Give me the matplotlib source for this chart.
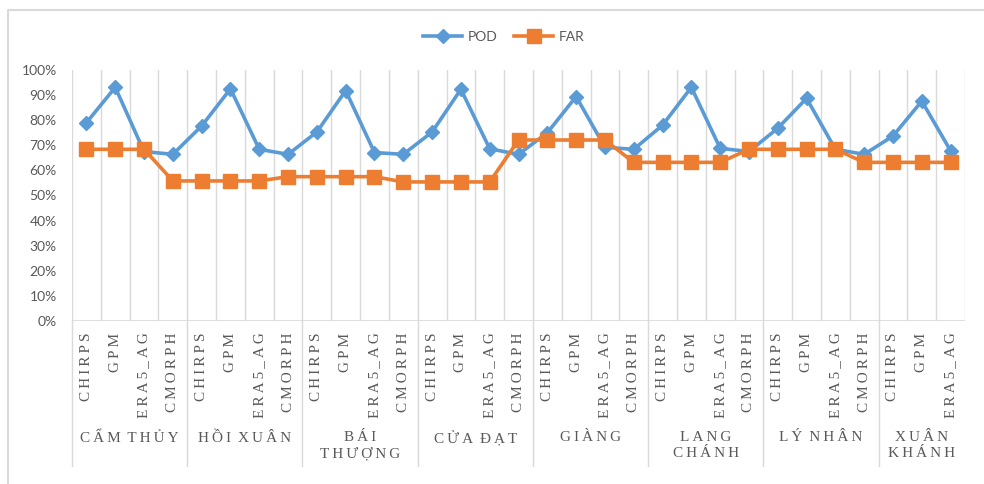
import numpy as np
import matplotlib
matplotlib.use('Agg')
import matplotlib.pyplot as plt
from matplotlib.lines import Line2D
from matplotlib.transforms import blended_transform_factory

# 站点与产品
stations = ['CẨM THỦY', 'HỒI XUÂN', 'BÁI\nTHƯỢNG', 'CỬA ĐẠT', 'GIÀNG',
            'LANG\nCHÁNH', 'LÝ NHÂN', 'XUÂN\nKHÁNH']
products = ['CHIRPS', 'GPM', 'ERA5_AG', 'CMORPH']
n_products = [4, 4, 4, 4, 4, 4, 4, 3]

# POD / FAR (%)
pod = [79.0, 93.1, 67.5, 66.4,
       77.7, 92.5, 68.4, 66.4,
       75.3, 91.8, 67.1, 66.4,
       75.3, 92.3, 68.6, 66.4,
       75.0, 89.4, 69.2, 68.4,
       78.0, 93.1, 68.8, 67.5,
       76.8, 88.7, 68.4, 66.4,
       73.7, 87.6, 67.8]
far = [68.4, 68.4, 68.4, 55.8,
       55.8, 55.8, 55.8, 57.5,
       57.5, 57.5, 57.5, 55.4,
       55.4, 55.4, 55.4, 72.1,
       72.1, 72.1, 72.1, 63.2,
       63.2, 63.2, 63.2, 68.4,
       68.4, 68.4, 68.4, 63.2,
       63.2, 63.2, 63.2]

labels = [p for n in n_products for p in products[:n]]
x = np.arange(len(labels))
pod = np.array(pod) / 100
far = np.array(far) / 100

grey = '#595959'
grid_c = '#D9D9D9'
serif = ['Liberation Serif', 'DejaVu Serif']


def spaced(s):
    # 字间距加宽
    return '\n'.join('\u2009 '.join('\u2009'.join(w) for w in line.split(' '))
                     for line in s.split('\n'))


fig = plt.figure(figsize=(9.84, 4.84), dpi=100)
ax = fig.add_axes([0.0732, 0.3368, 0.9075, 0.5186])

ax.plot(x, pod, color='#5B9BD5', lw=2.6, marker='D', ms=7, label='POD', zorder=3)
ax.plot(x, far, color='#ED7D31', lw=2.6, marker='s', ms=9.5, label='FAR', zorder=3)

ax.set_xlim(-0.5, len(x) - 0.5)
ax.set_ylim(0, 1)
ax.set_yticks(np.arange(0, 1.01, 0.1))
ax.set_yticklabels([f'{int(round(v * 100))}%' for v in np.arange(0, 1.01, 0.1)],
                   fontsize=10, color=grey, family='Lato')
ax.tick_params(axis='y', length=0, pad=11)
ax.set_xticks([])

# 竖向网格线
for b in np.arange(-0.5, len(x), 1.0):
    ax.axvline(b, color=grid_c, lw=1, zorder=1)
for s in ax.spines.values():
    s.set_visible(False)
ax.axhline(0, color=grid_c, lw=1.2, zorder=2)

# 两级分类标签
tr = blended_transform_factory(ax.transData, ax.transAxes)
for xi, lab in zip(x, labels):
    ax.text(xi, -0.046, spaced(lab), rotation=90, ha='center', va='top', transform=tr,
            fontsize=11, color=grey, family=serif)

start = 0
for name, n in zip(stations, n_products):
    ax.plot([start - 0.5, start - 0.5], [0, -0.578], color=grid_c, lw=1,
            transform=tr, clip_on=False)
    ax.text(start + (n - 1) / 2, -0.44, spaced(name), ha='center', va='top',
            transform=tr, fontsize=11, color=grey, family=serif, linespacing=1.25)
    start += n

leg = fig.legend(loc='center', bbox_to_anchor=(0.512, 0.924), ncol=2, frameon=False,
                 handlelength=2.8, columnspacing=1.2, handletextpad=0.4,
                 prop={'family': 'Lato', 'size': 10})
for t in leg.get_texts():
    t.set_color(grey)

# 图表外框
fig.add_artist(Line2D([8 / 984, 8 / 984, 1], [0, 1 - 10 / 484, 1 - 10 / 484],
                      color=grid_c, lw=1.5, transform=fig.transFigure))

fig.savefig('out.png', dpi=100)
